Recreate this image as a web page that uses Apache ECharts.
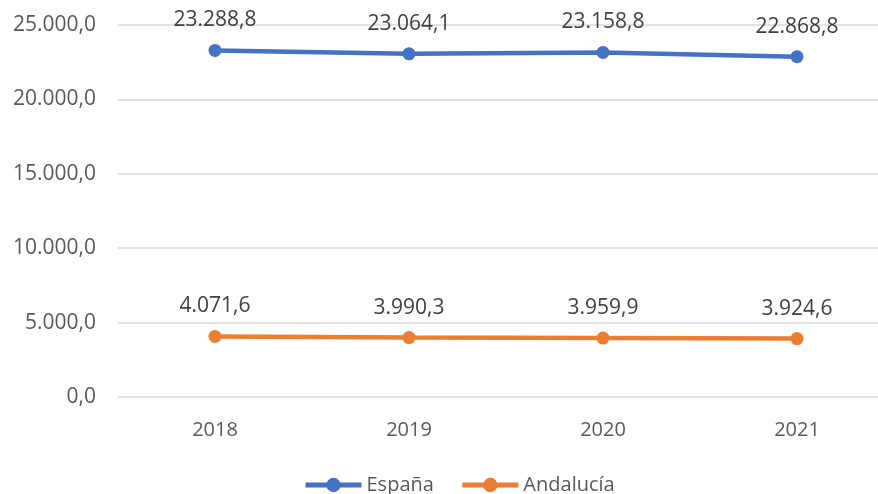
<!doctype html>
<html>
<head>
    <meta charset="UTF-8">
    <title>España / Andalucía</title>
    <script src="https://cdn.jsdelivr.net/npm/echarts@6/dist/echarts.min.js"></script>
    <style>
        html, body { margin: 0; padding: 0; background: #fff; }
        #main { width: 878px; height: 494px; }
    </style>
</head>
<body>
<div id="main"></div>
<script>
    var years = ['2018', '2019', '2020', '2021'];
    var espana = [23288.8, 23064.1, 23158.8, 22868.8];
    var andalucia = [4071.6, 3990.3, 3959.9, 3924.6];

    // formato español: 23.288,8
    var fmt = function (v) {
        var parts = Number(v).toFixed(1).split('.');
        parts[0] = parts[0].replace(/\B(?=(\d{3})+(?!\d))/g, '.');
        return parts[0] + ',' + parts[1];
    };

    var font = '"Open Sans", "Noto Sans", sans-serif';

    var myChart = echarts.init(document.getElementById('main'));

    var makeSeries = function (name, data, color) {
        return {
            name: name,
            type: 'line',
            data: data,
            symbol: 'circle',
            symbolSize: 13,
            lineStyle: { width: 4.5, color: color },
            itemStyle: { color: color },
            label: {
                show: true,
                position: 'top',
                distance: 13,
                color: '#404040',
                fontSize: 21,
                fontFamily: font,
                formatter: function (p) { return fmt(p.value); }
            },
            emphasis: { disabled: true },
            animation: false
        };
    };

    var option = {
        grid: { left: 118, top: 25, width: 776, height: 372, outerBoundsMode: 'none' },
        legend: {
            top: 470,
            left: 298,
            itemWidth: 56,
            itemHeight: 18,
            itemGap: 26,
            lineStyle: { width: 5 },
            textStyle: { color: '#595959', fontSize: 20, fontFamily: font },
            data: ['España', 'Andalucía']
        },
        xAxis: {
            type: 'category',
            data: years,
            axisLine: { show: false },
            axisTick: { show: false },
            axisLabel: { color: '#595959', fontSize: 20, fontFamily: font, margin: 23 }
        },
        yAxis: {
            type: 'value',
            min: 0,
            max: 25000,
            interval: 5000,
            axisLine: { show: false },
            axisTick: { show: false },
            splitLine: { lineStyle: { color: '#d9d9d9', width: 1.5 } },
            axisLabel: {
                color: '#595959', fontSize: 21, fontFamily: font, margin: 22,
                formatter: function (v) { return fmt(v); }
            }
        },
        series: [
            makeSeries('España', espana, '#4472C4'),
            makeSeries('Andalucía', andalucia, '#ED7D31')
        ]
    };

    myChart.setOption(option);
</script>
</body>
</html>
